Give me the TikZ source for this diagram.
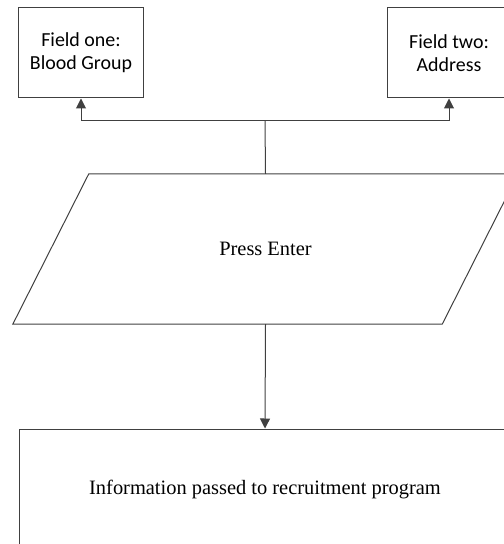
\documentclass[tikz,border=0pt]{standalone}
\usepackage{fontspec}
\setmainfont{Liberation Serif}
\newfontfamily\fieldfont{Carlito}
\usetikzlibrary{arrows.meta, positioning}

\begin{document}
\begin{tikzpicture}[x=1bp, y=-1bp, >={Triangle[length=10bp, width=10bp]},
    line/.style={draw=black!75, line width=1bp},
    fieldbox/.style={line, rectangle, minimum width=124bp, minimum height=90bp,
        align=center, font=\fieldfont\fontsize{20}{23}\selectfont, inner sep=0pt},
    inputbox/.style={rectangle, minimum width=429bp, minimum height=150bp,
        font=\fontsize{20.5}{24}\selectfont, inner sep=0pt},
    procbox/.style={line, rectangle, minimum width=490bp, minimum height=122bp,
        font=\fontsize{20.5}{24}\selectfont, inner sep=0pt}]

% --- PAGE ---
\useasboundingbox (0,0) rectangle (504,544);

% --- FIELDS (top) ---
\node[fieldbox] (one) at (81,53)  {Field one:\\Blood Group};
\node[fieldbox] (two) at (449,53) {Field two:\\Address};

% --- INPUT (parallelogram, slant 38 each side) ---
\node[inputbox] (enter) at (265.5,249) {Press Enter};
\draw[line] ([xshift=-38bp]enter.south west) -- ([xshift=38bp]enter.north west)
    -- ([xshift=38bp]enter.north east) -- ([xshift=-38bp]enter.south east) -- cycle;

% --- OUTPUT ---
\node[procbox] (info) at (265,490) {Information passed to recruitment program};

% --- CONNECTORS ---
\coordinate (split) at (265,121);
\draw[line] (enter.north) -- (split);
\draw[line, ->] (split) -| (one.south);
\draw[line, ->] (split) -| (two.south);
\draw[line, ->] (enter.south) -- (info.north);

\end{tikzpicture}
\end{document}
